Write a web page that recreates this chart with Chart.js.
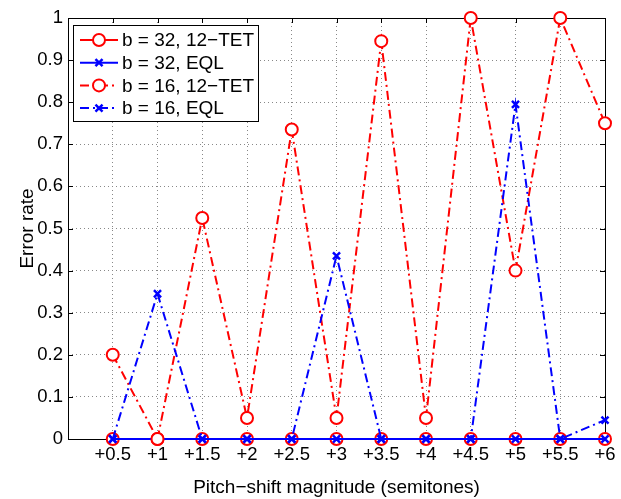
<!DOCTYPE html>
<html>
<head>
<meta charset="utf-8">
<script src="https://cdn.jsdelivr.net/npm/chart.js@4.4.1/dist/chart.umd.min.js"></script>
<style>
  html, body { margin: 0; padding: 0; background: #fff; }
  #wrap { width: 621px; height: 499px; }
</style>
</head>
<body>
<div id="wrap"><canvas id="myChart" width="621" height="499"></canvas></div>
<script>
// pitch shifts (semitones)
var shifts = [0.5, 1, 1.5, 2, 2.5, 3, 3.5, 4, 4.5, 5, 5.5, 6];

// error rates
var b32_tet = [0, 0, 0, 0, 0, 0, 0, 0, 0, 0, 0, 0];
var b32_eql = [0, 0, 0, 0, 0, 0, 0, 0, 0, 0, 0, 0];
var b16_tet = [0.2, 0, 0.525, 0.05, 0.735, 0.05, 0.945, 0.05, 1, 0.4, 1, 0.75];
var b16_eql = [0, 0.345, 0, 0, 0, 0.435, 0, 0, 0, 0.795, 0, 0.045];

var yTicks = [0, 0.1, 0.2, 0.3, 0.4, 0.5, 0.6, 0.7, 0.8, 0.9, 1];

var FONT = "'Liberation Sans', Arial, Helvetica, sans-serif";
var RED = "#ff0000";
var BLUE = "#0000ff";
var DASHDOT = [9, 4, 2, 4];

function pts(vals) {
  return vals.map(function (v, i) { return {x: shifts[i], y: v}; });
}

function series(label, vals, color, marker, dash, order) {
  return {
    label: label,
    data: pts(vals),
    borderColor: color,
    backgroundColor: '#fff',
    borderWidth: 2,
    borderDash: dash,
    pointStyle: marker,
    pointRadius: marker == 'circle' ? 6 : 5,
    pointBorderWidth: marker == 'circle' ? 2 : 2.5,
    pointBorderColor: color,
    pointBackgroundColor: '#fff',
    tension: 0,
    clip: false,
    order: order
  };
}

// legend drawn inside the axes, matlab style
var boxLegend = {
  id: 'boxLegend',
  afterDraw: function (chart) {
    var ctx = chart.ctx;
    var a = chart.chartArea;
    var x0 = a.left + 5, y0 = a.top + 7, w = 185, h = 96;
    ctx.save();
    ctx.fillStyle = '#fff';
    ctx.fillRect(x0, y0, w, h);
    ctx.strokeStyle = '#000';
    ctx.lineWidth = 1;
    ctx.setLineDash([]);
    ctx.strokeRect(x0 + 0.5, y0 + 0.5, w, h);
    ctx.font = '19px ' + FONT;
    ctx.textBaseline = 'middle';
    chart.data.datasets.forEach(function (ds, i) {
      var y = y0 + 15 + i * 22.7;
      ctx.strokeStyle = ds.borderColor;
      ctx.lineWidth = 2;
      ctx.setLineDash(ds.borderDash);
      ctx.beginPath();
      ctx.moveTo(x0 + 7, y);
      ctx.lineTo(x0 + 45, y);
      ctx.stroke();
      ctx.setLineDash([]);
      ctx.fillStyle = '#fff';
      ctx.lineWidth = ds.pointBorderWidth;
      Chart.helpers.drawPoint(ctx, {
        pointStyle: ds.pointStyle,
        radius: ds.pointRadius,
        borderWidth: ds.pointBorderWidth
      }, x0 + 26, y);
      ctx.fillStyle = '#000';
      ctx.fillText(ds.label, x0 + 49, y + 1);
    });
    ctx.restore();
  }
};

// black box with inward ticks
var axesBox = {
  id: 'axesBox',
  beforeDatasetsDraw: function (chart) {
    var ctx = chart.ctx;
    var a = chart.chartArea;
    var xs = chart.scales.x, ys = chart.scales.y;
    ctx.save();
    ctx.strokeStyle = '#000';
    ctx.lineWidth = 1;
    ctx.beginPath();
    shifts.forEach(function (v) {
      var px = Math.round(xs.getPixelForValue(v)) + 0.5;
      ctx.moveTo(px, a.bottom); ctx.lineTo(px, a.bottom - 5);
      ctx.moveTo(px, a.top); ctx.lineTo(px, a.top + 5);
    });
    yTicks.forEach(function (v) {
      var py = Math.round(ys.getPixelForValue(v)) + 0.5;
      ctx.moveTo(a.left, py); ctx.lineTo(a.left + 5, py);
      ctx.moveTo(a.right, py); ctx.lineTo(a.right - 5, py);
    });
    ctx.stroke();
    ctx.strokeRect(Math.round(a.left) + 0.5, Math.round(a.top) + 0.5,
      Math.round(a.right - a.left), Math.round(a.bottom - a.top));
    ctx.restore();
  }
};

var ctx = document.getElementById("myChart");
var myChart = new Chart(ctx, {
  type: 'line',
  data: {
    datasets: [
      series('b = 32, 12\u2212TET', b32_tet, RED, 'circle', [], 4),
      series('b = 32, EQL', b32_eql, BLUE, 'crossRot', [], 3),
      series('b = 16, 12\u2212TET', b16_tet, RED, 'circle', DASHDOT, 2),
      series('b = 16, EQL', b16_eql, BLUE, 'crossRot', DASHDOT, 1)
    ]
  },
  options: {
    responsive: false,
    animation: false,
    layout: { padding: { left: 0, top: 18, right: 16, bottom: 0 } },
    plugins: {
      legend: { display: false },
      tooltip: { enabled: false }
    },
    scales: {
      x: {
        type: 'linear',
        min: 0,
        max: 6,
        afterBuildTicks: function (scale) {
          scale.ticks = shifts.map(function (v) { return {value: v}; });
        },
        afterFit: function (scale) { scale.height = 60; },
        ticks: {
          color: '#000',
          font: { family: FONT, size: 18.5 },
          padding: 5,
          maxRotation: 0,
          autoSkip: false,
          callback: function (v) { return '+' + v; }
        },
        grid: {
          color: '#888',
          drawTicks: false
        },
        // in v4 the dash here is what the grid lines use
        border: { display: false, dash: [1, 3] },
        title: {
          display: true,
          text: 'Pitch\u2212shift magnitude (semitones)',
          color: '#000',
          font: { family: FONT, size: 19 },
          padding: { top: 10, bottom: 0 }
        }
      },
      y: {
        type: 'linear',
        min: 0,
        max: 1,
        afterBuildTicks: function (scale) {
          scale.ticks = yTicks.map(function (v) { return {value: v}; });
        },
        afterFit: function (scale) { scale.width = 68; },
        ticks: {
          color: '#000',
          font: { family: FONT, size: 18.5 },
          padding: 5,
          callback: function (v) { return String(Math.round(v * 10) / 10); }
        },
        grid: {
          color: '#888',
          drawTicks: false
        },
        border: { display: false, dash: [1, 3] },
        title: {
          display: true,
          text: 'Error rate',
          color: '#000',
          font: { family: FONT, size: 19 },
          padding: { top: 16, bottom: 0 }
        }
      }
    }
  },
  plugins: [axesBox, boxLegend]
});
</script>
</body>
</html>
